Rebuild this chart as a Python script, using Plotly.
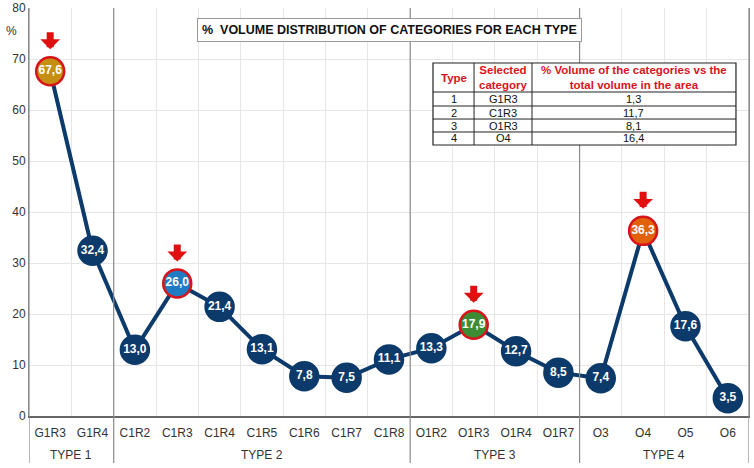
import plotly.graph_objects as go

# data
categories = ["G1R3", "G1R4",
              "C1R2", "C1R3", "C1R4", "C1R5", "C1R6", "C1R7", "C1R8",
              "O1R2", "O1R3", "O1R4", "O1R7",
              "O3", "O4", "O5", "O6"]
types = ["TYPE 1", "TYPE 2", "TYPE 3", "TYPE 4"]
type_sizes = [2, 7, 4, 4]
volume_pct = [67.6, 32.4,
              13.0, 26.0, 21.4, 13.1, 7.8, 7.5, 11.1,
              13.3, 17.9, 12.7, 8.5,
              7.4, 36.3, 17.6, 3.5]
selected = ["G1R3", "C1R3", "O1R3", "O4"]
selected_fill = ["#c68e12", "#1f7cc3", "#3c8c36", "#e2620c"]

table_header = ["Type", "Selected<br>category",
                "% Volume of the categories vs the<br>total volume in the area"]
table_type = ["1", "2", "3", "4"]
table_category = ["G1R3", "C1R3", "O1R3", "O4"]
table_volume = ["1,3", "11,7", "8,1", "16,4"]

NAVY = "#0c3a6b"
RED = "#d8141b"
FONT = "Liberation Sans, Arial, sans-serif"

x = list(range(len(categories)))
labels = [f"{v:.1f}".replace(".", ",") for v in volume_pct]
fills = []
borders = []
for c in categories:
    if c in selected:
        fills.append(selected_fill[selected.index(c)])
        borders.append(RED)
    else:
        fills.append(NAVY)
        borders.append(NAVY)

fig = go.Figure()
fig.add_trace(go.Scatter(
    x=x, y=volume_pct, mode="lines+markers+text",
    line=dict(color=NAVY, width=4),
    marker=dict(size=28, color=fills, line=dict(color=borders, width=2.5)),
    text=labels, textposition="middle center",
    textfont=dict(family=FONT, size=12, color="white", weight="bold"),
    showlegend=False, hoverinfo="skip", cliponaxis=False,
))

# red arrows over the selected categories
for c in selected:
    i = categories.index(c)
    fig.add_annotation(x=i, y=volume_pct[i], text=" ", showarrow=True,
                       ax=0, ay=-19, yshift=22, arrowhead=1, arrowsize=0.47,
                       arrowwidth=7, arrowcolor="#e01010", standoff=0,
                       font=dict(size=1))

# group dividers and type labels
start = 0
for t, n in zip(types, type_sizes):
    fig.add_annotation(x=start + (n - 1) / 2, y=-0.096, xref="x", yref="paper",
                       text=t, showarrow=False, yanchor="middle",
                       font=dict(family=FONT, size=12, color="#333"))
    start += n
    if start < len(categories):
        fig.add_shape(type="line", xref="x", yref="paper",
                      x0=start - 0.5, x1=start - 0.5, y0=-0.115, y1=1,
                      line=dict(color="#8a8a8a", width=1.2))
for edge in [-0.5, len(categories) - 0.5]:
    fig.add_shape(type="line", xref="x", yref="paper", x0=edge, x1=edge,
                  y0=-0.115, y1=1, line=dict(color="#8a8a8a", width=1.2))

# summary table drawn with shapes and annotations (paper coords)
col_edges = [0.5611, 0.6181, 0.6986, 0.9819]
row_edges = [0.8652, 0.7941, 0.7598, 0.7279, 0.6961, 0.6642]
fig.add_shape(type="rect", xref="paper", yref="paper",
              x0=col_edges[0], x1=col_edges[-1], y0=row_edges[-1], y1=row_edges[0],
              fillcolor="white", line=dict(color="#222", width=1.2), layer="above")
for cx in col_edges[1:-1]:
    fig.add_shape(type="line", xref="paper", yref="paper", x0=cx, x1=cx,
                  y0=row_edges[-1], y1=row_edges[0], line=dict(color="#222", width=1))
for ry in row_edges[1:-1]:
    fig.add_shape(type="line", xref="paper", yref="paper", x0=col_edges[0],
                  x1=col_edges[-1], y0=ry, y1=ry, line=dict(color="#222", width=1))
columns = [table_type, table_category, table_volume]
for j, head in enumerate(table_header):
    xc = (col_edges[j] + col_edges[j + 1]) / 2
    fig.add_annotation(x=xc, y=(row_edges[0] + row_edges[1]) / 2, xref="paper",
                       yref="paper", text=f"<b>{head}</b>", showarrow=False,
                       xanchor="center", yanchor="middle",
                       font=dict(family=FONT, size=11.5, color=RED))
    for r, val in enumerate(columns[j]):
        fig.add_annotation(x=xc, y=(row_edges[r + 1] + row_edges[r + 2]) / 2,
                           xref="paper", yref="paper", text=val, showarrow=False,
                           xanchor="center", yanchor="middle",
                           font=dict(family=FONT, size=11, color="#111"))

fig.add_annotation(x=0.5, y=0.946, xref="paper", yref="paper",
                   text="<b>%  VOLUME DISTRIBUTION OF CATEGORIES FOR EACH TYPE</b>",
                   showarrow=False, bgcolor="white", bordercolor="#999",
                   borderwidth=1, borderpad=4, xanchor="center", yanchor="middle",
                   font=dict(family=FONT, size=12.5, color="#111"))
fig.add_annotation(x=-0.024, y=0.944, xref="paper", yref="paper", text="%",
                   showarrow=False, xanchor="center", yanchor="middle",
                   font=dict(family=FONT, size=12, color="#333"))

fig.update_xaxes(range=[-0.5, len(categories) - 0.5], tickvals=x,
                 ticktext=categories, showgrid=False, zeroline=False,
                 ticks="outside", ticklen=5, tickcolor="rgba(0,0,0,0)",
                 tickfont=dict(family=FONT, size=12, color="#333"),
                 showline=True, linecolor="#666", linewidth=1.5, automargin=False,
                 minor=dict(tickvals=[i + 0.5 for i in x], showgrid=True,
                            gridcolor="#e6e6e6", gridwidth=1))
fig.update_yaxes(range=[0, 80], dtick=10, showgrid=True, gridcolor="#e6e6e6",
                 zeroline=False, showline=True, linecolor="#8a8a8a", mirror=True,
                 automargin=False,
                 tickfont=dict(family=FONT, size=12, color="#333"))
fig.update_layout(width=754, height=468, margin=dict(l=29, r=5, t=8, b=52),
                  plot_bgcolor="white", paper_bgcolor="white")

fig.write_html("out.html", config={"displayModeBar": False},
               post_script="document.body.style.margin='0';")
